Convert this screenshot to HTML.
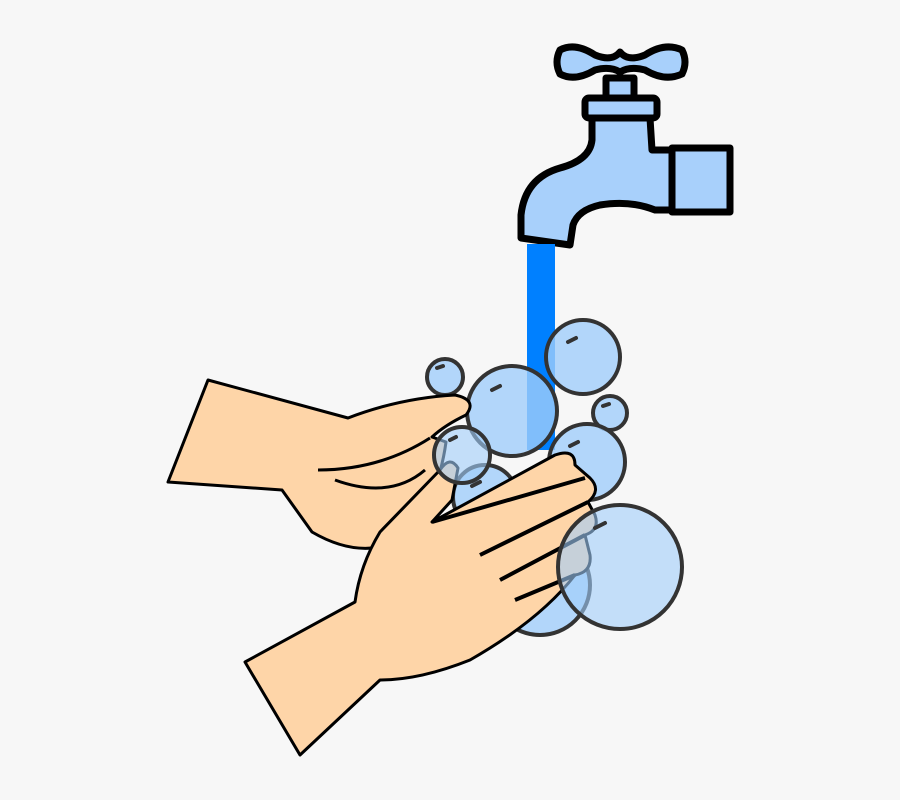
<!DOCTYPE html>
<html><head><meta charset="utf-8"><style>
html,body{margin:0;padding:0;background:#f7f7f7;}
svg{display:block}
</style></head><body>
<svg width="900" height="800" viewBox="0 0 900 800">
<rect width="900" height="800" fill="#f7f7f7"/>
<g stroke="#000" stroke-width="7" stroke-linejoin="round" fill="#a8d0fb">
  <path d="M560,50 Q575,42 595,55 Q612,62 620,52 Q628,62 645,55 Q665,42 682,50 Q688,62 682,74 Q665,82 645,70 Q630,66 620,72 Q610,66 595,70 Q575,82 560,74 Q554,62 560,50 Z"/>
  <rect x="606" y="78" width="28" height="22"/>
  <rect x="585" y="98" width="72" height="20" rx="4"/>
  <path d="M592,118 L650,118 L652,150 L680,150 L680,210 L655,210 Q630,200 600,205 Q578,210 573,225 L570,245 L521,238 L521,215 Q525,178 560,168 Q590,160 592,140 Z"/>
  <rect x="672" y="148" width="58" height="64"/>
</g>
<rect x="527" y="244" width="28" height="206" fill="#0080ff"/>
<g fill="rgba(160,205,250,0.8)" stroke="#333" stroke-width="4">
  <circle cx="445" cy="377" r="18"/>
  <circle cx="583" cy="357" r="37"/>
  <circle cx="610" cy="413" r="17"/>
  <circle cx="512" cy="411" r="45"/>
  <circle cx="587" cy="462" r="38"/>
  <circle cx="485" cy="497" r="32"/>
  <circle cx="540" cy="585" r="50"/>
</g>
<g fill="#fed5a8" stroke="#000" stroke-width="3" stroke-linejoin="round">
  <path d="M208,380 L348,418 Q400,398 455,395 Q478,400 466,415 Q445,425 432,437 L446,442 Q442,472 430,500 L400,540 Q360,560 312,532 L282,490 L168,482 Z"/>
  <path fill="none" d="M318,470 Q380,470 430,438 M335,480 Q390,500 425,470"/>
  <path d="M245,662 L355,602 Q360,565 380,532 L440,470 Q450,455 458,468 L452,500 L432,522 L555,455 Q575,448 575,465 L590,478 Q602,490 588,502 L595,515 Q600,530 585,535 L590,555 Q592,572 575,575 Q540,620 470,660 Q420,680 380,680 L300,755 Z"/>
  <path fill="none" stroke-width="4" d="M432,522 L585,478 M480,555 L588,502 M500,580 L585,535 M515,600 L575,575"/>
</g>
<g fill="rgba(160,205,250,0.6)" stroke="#333" stroke-width="4">
  <circle cx="462" cy="455" r="28"/>
  <circle cx="620" cy="567" r="62"/>
</g>
<g stroke="#333" stroke-width="4" stroke-linecap="round">
  <line x1="437" y1="368" x2="443" y2="366"/>
  <line x1="568" y1="342" x2="576" y2="338"/>
  <line x1="603" y1="406" x2="609" y2="404"/>
  <line x1="492" y1="390" x2="500" y2="386"/>
  <line x1="570" y1="446" x2="578" y2="442"/>
  <line x1="472" y1="486" x2="480" y2="482"/>
  <line x1="450" y1="440" x2="456" y2="437"/>
  <line x1="595" y1="528" x2="605" y2="523"/>
</g>
</svg>
</body></html>
